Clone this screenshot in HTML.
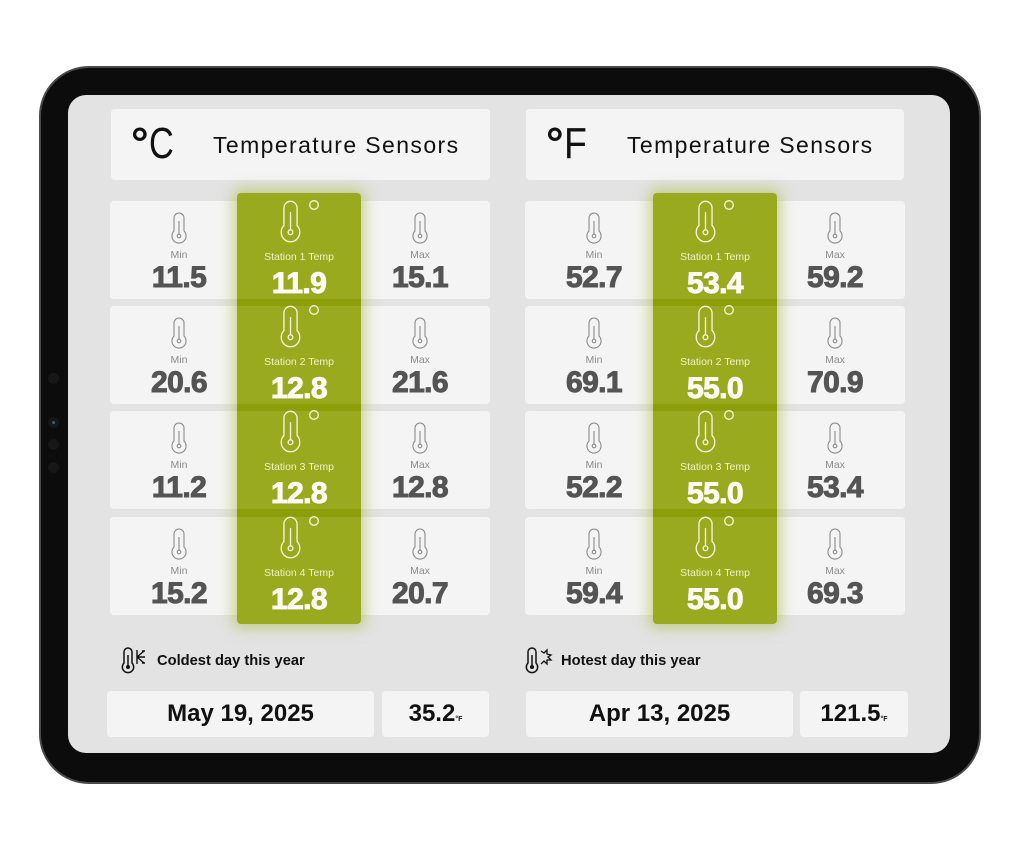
<!DOCTYPE html>
<html><head><meta charset="utf-8">
<style>
*{margin:0;padding:0;box-sizing:border-box}
html,body{width:1024px;height:853px;background:#fff;overflow:hidden;font-family:"Liberation Sans",sans-serif}
.abs{position:absolute}
.frame{position:absolute;left:39px;top:66px;width:942px;height:718px;border-radius:50px;background:#0c0c0c;border:2px solid #4a4a4a}
.screen{position:absolute;left:68px;top:95px;width:882px;height:658px;border-radius:18px;background:#e3e3e3}
.dot{position:absolute;width:11px;height:11px;border-radius:50%;background:#171717}
.card{position:absolute;background:#f4f4f4;border-radius:4px}
.lbl{position:absolute;width:120px;text-align:center;font-size:10.5px;color:#8c8c8c;height:14px;line-height:14px}
.num{position:absolute;width:120px;text-align:center;font-weight:bold;font-size:30px;color:#545454;height:36px;line-height:36px;-webkit-text-stroke:1px #545454;letter-spacing:-0.6px}
.glbl{position:absolute;width:120px;text-align:center;font-size:10.5px;color:#eef3c8;height:14px;line-height:14px}
.gnum{position:absolute;width:120px;text-align:center;font-weight:bold;font-size:30px;color:#fdfdf4;height:36px;line-height:36px;-webkit-text-stroke:1px #fdfdf4;letter-spacing:-0.6px;text-shadow:0 1px 1px rgba(0,0,0,0.12)}
.green{position:absolute;width:124px;top:193px;height:431px;background:#9aaa1e;border-radius:4px;box-shadow:0 0 14px 4px rgba(160,180,40,0.5)}
.band{position:absolute;left:0;width:124px;background:#8c9e0a}
.hdr{position:absolute;font-size:23px;letter-spacing:1.4px;color:#111;height:30px;line-height:30px}
.deg{position:absolute;font-size:44px;color:#111;height:50px;line-height:50px}
.bt{position:absolute;font-weight:bold;font-size:14.7px;color:#111;height:20px;line-height:20px}
.date{position:absolute;text-align:center;font-weight:bold;font-size:24px;color:#111;height:30px;line-height:30px}
</style></head><body>

<div class="frame"></div>
<div class="dot" style="left:48px;top:373px"></div>
<div class="dot" style="left:48px;top:417px"><div class="abs" style="left:4px;top:4px;width:3px;height:3px;border-radius:50%;background:#3a5a8a"></div></div>
<div class="dot" style="left:48px;top:439px"></div>
<div class="dot" style="left:48px;top:462px"></div>

<div class="screen"></div>

<!-- Headers -->
<div class="card" style="left:111px;top:109px;width:379px;height:71px"></div>
<div class="deg" style="left:131px;top:119px"><span style="font-weight:bold">°</span><span style="display:inline-block;transform:scaleX(0.78);transform-origin:left">C</span></div>
<div class="hdr" style="left:213px;top:130px">Temperature Sensors</div>

<div class="card" style="left:526px;top:109px;width:378px;height:71px"></div>
<div class="deg" style="left:546px;top:119px"><span style="font-weight:bold">°</span><span style="display:inline-block;transform:scaleX(0.85);transform-origin:left">F</span></div>
<div class="hdr" style="left:627px;top:130px">Temperature Sensors</div>

<!-- Left cards -->
<div class="card" style="left:110px;top:201px;width:380px;height:98px"></div>
<div class="card" style="left:110px;top:306px;width:380px;height:98px"></div>
<div class="card" style="left:110px;top:411px;width:380px;height:98px"></div>
<div class="card" style="left:110px;top:517px;width:380px;height:98px"></div>
<!-- Right cards -->
<div class="card" style="left:525px;top:201px;width:380px;height:98px"></div>
<div class="card" style="left:525px;top:306px;width:380px;height:98px"></div>
<div class="card" style="left:525px;top:411px;width:380px;height:98px"></div>
<div class="card" style="left:525px;top:517px;width:380px;height:98px"></div>

<!-- Left min/max -->
<svg class="abs" style="left:171px;top:212px" width="16" height="32" viewBox="0 0 16 32"><path d="M3,19V6A5,5 0 0 1 13,6V19A7.07,7.07 0 1 1 3,19Z" fill="none" stroke="#8a8a8a" stroke-width="1.1"/><path d="M8,9V22" stroke="#8a8a8a" stroke-width="1.1"/><circle cx="8" cy="24" r="1.8" fill="none" stroke="#8a8a8a" stroke-width="1.1"/></svg>
<div class="lbl" style="left:119px;top:248px">Min</div>
<div class="num" style="left:119px;top:260px">11.5</div>
<svg class="abs" style="left:412px;top:212px" width="16" height="32" viewBox="0 0 16 32"><path d="M3,19V6A5,5 0 0 1 13,6V19A7.07,7.07 0 1 1 3,19Z" fill="none" stroke="#8a8a8a" stroke-width="1.1"/><path d="M8,9V22" stroke="#8a8a8a" stroke-width="1.1"/><circle cx="8" cy="24" r="1.8" fill="none" stroke="#8a8a8a" stroke-width="1.1"/></svg>
<div class="lbl" style="left:360px;top:248px">Max</div>
<div class="num" style="left:360px;top:260px">15.1</div>

<svg class="abs" style="left:171px;top:317px" width="16" height="32" viewBox="0 0 16 32"><path d="M3,19V6A5,5 0 0 1 13,6V19A7.07,7.07 0 1 1 3,19Z" fill="none" stroke="#8a8a8a" stroke-width="1.1"/><path d="M8,9V22" stroke="#8a8a8a" stroke-width="1.1"/><circle cx="8" cy="24" r="1.8" fill="none" stroke="#8a8a8a" stroke-width="1.1"/></svg>
<div class="lbl" style="left:119px;top:353px">Min</div>
<div class="num" style="left:119px;top:365px">20.6</div>
<svg class="abs" style="left:412px;top:317px" width="16" height="32" viewBox="0 0 16 32"><path d="M3,19V6A5,5 0 0 1 13,6V19A7.07,7.07 0 1 1 3,19Z" fill="none" stroke="#8a8a8a" stroke-width="1.1"/><path d="M8,9V22" stroke="#8a8a8a" stroke-width="1.1"/><circle cx="8" cy="24" r="1.8" fill="none" stroke="#8a8a8a" stroke-width="1.1"/></svg>
<div class="lbl" style="left:360px;top:353px">Max</div>
<div class="num" style="left:360px;top:365px">21.6</div>

<svg class="abs" style="left:171px;top:422px" width="16" height="32" viewBox="0 0 16 32"><path d="M3,19V6A5,5 0 0 1 13,6V19A7.07,7.07 0 1 1 3,19Z" fill="none" stroke="#8a8a8a" stroke-width="1.1"/><path d="M8,9V22" stroke="#8a8a8a" stroke-width="1.1"/><circle cx="8" cy="24" r="1.8" fill="none" stroke="#8a8a8a" stroke-width="1.1"/></svg>
<div class="lbl" style="left:119px;top:458px">Min</div>
<div class="num" style="left:119px;top:470px">11.2</div>
<svg class="abs" style="left:412px;top:422px" width="16" height="32" viewBox="0 0 16 32"><path d="M3,19V6A5,5 0 0 1 13,6V19A7.07,7.07 0 1 1 3,19Z" fill="none" stroke="#8a8a8a" stroke-width="1.1"/><path d="M8,9V22" stroke="#8a8a8a" stroke-width="1.1"/><circle cx="8" cy="24" r="1.8" fill="none" stroke="#8a8a8a" stroke-width="1.1"/></svg>
<div class="lbl" style="left:360px;top:458px">Max</div>
<div class="num" style="left:360px;top:470px">12.8</div>

<svg class="abs" style="left:171px;top:528px" width="16" height="32" viewBox="0 0 16 32"><path d="M3,19V6A5,5 0 0 1 13,6V19A7.07,7.07 0 1 1 3,19Z" fill="none" stroke="#8a8a8a" stroke-width="1.1"/><path d="M8,9V22" stroke="#8a8a8a" stroke-width="1.1"/><circle cx="8" cy="24" r="1.8" fill="none" stroke="#8a8a8a" stroke-width="1.1"/></svg>
<div class="lbl" style="left:119px;top:564px">Min</div>
<div class="num" style="left:119px;top:576px">15.2</div>
<svg class="abs" style="left:412px;top:528px" width="16" height="32" viewBox="0 0 16 32"><path d="M3,19V6A5,5 0 0 1 13,6V19A7.07,7.07 0 1 1 3,19Z" fill="none" stroke="#8a8a8a" stroke-width="1.1"/><path d="M8,9V22" stroke="#8a8a8a" stroke-width="1.1"/><circle cx="8" cy="24" r="1.8" fill="none" stroke="#8a8a8a" stroke-width="1.1"/></svg>
<div class="lbl" style="left:360px;top:564px">Max</div>
<div class="num" style="left:360px;top:576px">20.7</div>

<!-- Right min/max -->
<svg class="abs" style="left:586px;top:212px" width="16" height="32" viewBox="0 0 16 32"><path d="M3,19V6A5,5 0 0 1 13,6V19A7.07,7.07 0 1 1 3,19Z" fill="none" stroke="#8a8a8a" stroke-width="1.1"/><path d="M8,9V22" stroke="#8a8a8a" stroke-width="1.1"/><circle cx="8" cy="24" r="1.8" fill="none" stroke="#8a8a8a" stroke-width="1.1"/></svg>
<div class="lbl" style="left:534px;top:248px">Min</div>
<div class="num" style="left:534px;top:260px">52.7</div>
<svg class="abs" style="left:827px;top:212px" width="16" height="32" viewBox="0 0 16 32"><path d="M3,19V6A5,5 0 0 1 13,6V19A7.07,7.07 0 1 1 3,19Z" fill="none" stroke="#8a8a8a" stroke-width="1.1"/><path d="M8,9V22" stroke="#8a8a8a" stroke-width="1.1"/><circle cx="8" cy="24" r="1.8" fill="none" stroke="#8a8a8a" stroke-width="1.1"/></svg>
<div class="lbl" style="left:775px;top:248px">Max</div>
<div class="num" style="left:775px;top:260px">59.2</div>

<svg class="abs" style="left:586px;top:317px" width="16" height="32" viewBox="0 0 16 32"><path d="M3,19V6A5,5 0 0 1 13,6V19A7.07,7.07 0 1 1 3,19Z" fill="none" stroke="#8a8a8a" stroke-width="1.1"/><path d="M8,9V22" stroke="#8a8a8a" stroke-width="1.1"/><circle cx="8" cy="24" r="1.8" fill="none" stroke="#8a8a8a" stroke-width="1.1"/></svg>
<div class="lbl" style="left:534px;top:353px">Min</div>
<div class="num" style="left:534px;top:365px">69.1</div>
<svg class="abs" style="left:827px;top:317px" width="16" height="32" viewBox="0 0 16 32"><path d="M3,19V6A5,5 0 0 1 13,6V19A7.07,7.07 0 1 1 3,19Z" fill="none" stroke="#8a8a8a" stroke-width="1.1"/><path d="M8,9V22" stroke="#8a8a8a" stroke-width="1.1"/><circle cx="8" cy="24" r="1.8" fill="none" stroke="#8a8a8a" stroke-width="1.1"/></svg>
<div class="lbl" style="left:775px;top:353px">Max</div>
<div class="num" style="left:775px;top:365px">70.9</div>

<svg class="abs" style="left:586px;top:422px" width="16" height="32" viewBox="0 0 16 32"><path d="M3,19V6A5,5 0 0 1 13,6V19A7.07,7.07 0 1 1 3,19Z" fill="none" stroke="#8a8a8a" stroke-width="1.1"/><path d="M8,9V22" stroke="#8a8a8a" stroke-width="1.1"/><circle cx="8" cy="24" r="1.8" fill="none" stroke="#8a8a8a" stroke-width="1.1"/></svg>
<div class="lbl" style="left:534px;top:458px">Min</div>
<div class="num" style="left:534px;top:470px">52.2</div>
<svg class="abs" style="left:827px;top:422px" width="16" height="32" viewBox="0 0 16 32"><path d="M3,19V6A5,5 0 0 1 13,6V19A7.07,7.07 0 1 1 3,19Z" fill="none" stroke="#8a8a8a" stroke-width="1.1"/><path d="M8,9V22" stroke="#8a8a8a" stroke-width="1.1"/><circle cx="8" cy="24" r="1.8" fill="none" stroke="#8a8a8a" stroke-width="1.1"/></svg>
<div class="lbl" style="left:775px;top:458px">Max</div>
<div class="num" style="left:775px;top:470px">53.4</div>

<svg class="abs" style="left:586px;top:528px" width="16" height="32" viewBox="0 0 16 32"><path d="M3,19V6A5,5 0 0 1 13,6V19A7.07,7.07 0 1 1 3,19Z" fill="none" stroke="#8a8a8a" stroke-width="1.1"/><path d="M8,9V22" stroke="#8a8a8a" stroke-width="1.1"/><circle cx="8" cy="24" r="1.8" fill="none" stroke="#8a8a8a" stroke-width="1.1"/></svg>
<div class="lbl" style="left:534px;top:564px">Min</div>
<div class="num" style="left:534px;top:576px">59.4</div>
<svg class="abs" style="left:827px;top:528px" width="16" height="32" viewBox="0 0 16 32"><path d="M3,19V6A5,5 0 0 1 13,6V19A7.07,7.07 0 1 1 3,19Z" fill="none" stroke="#8a8a8a" stroke-width="1.1"/><path d="M8,9V22" stroke="#8a8a8a" stroke-width="1.1"/><circle cx="8" cy="24" r="1.8" fill="none" stroke="#8a8a8a" stroke-width="1.1"/></svg>
<div class="lbl" style="left:775px;top:564px">Max</div>
<div class="num" style="left:775px;top:576px">69.3</div>

<!-- Green columns -->
<div class="green" style="left:237px">
  <div class="band" style="top:106px;height:7px"></div>
  <div class="band" style="top:211px;height:7px"></div>
  <div class="band" style="top:316px;height:8px"></div>
</div>
<div class="green" style="left:653px">
  <div class="band" style="top:106px;height:7px"></div>
  <div class="band" style="top:211px;height:7px"></div>
  <div class="band" style="top:316px;height:8px"></div>
</div>

<!-- Left green contents -->
<svg class="abs" style="left:280px;top:200px" width="21" height="43" viewBox="0 0 16 32" preserveAspectRatio="none"><path d="M3,19V6A5,5 0 0 1 13,6V19A7.07,7.07 0 1 1 3,19Z" fill="none" stroke="#f4f6e0" stroke-width="1"/><path d="M8,9V22" stroke="#f4f6e0" stroke-width="1"/><circle cx="8" cy="24" r="1.8" fill="none" stroke="#f4f6e0" stroke-width="1"/></svg>
<svg class="abs" style="left:308px;top:199px" width="12" height="12"><circle cx="6" cy="6" r="4.3" fill="none" stroke="#f4f6e0" stroke-width="1.3"/></svg>
<div class="glbl" style="left:239px;top:250px">Station 1 Temp</div>
<div class="gnum" style="left:239px;top:266px">11.9</div>

<svg class="abs" style="left:280px;top:305px" width="21" height="43" viewBox="0 0 16 32" preserveAspectRatio="none"><path d="M3,19V6A5,5 0 0 1 13,6V19A7.07,7.07 0 1 1 3,19Z" fill="none" stroke="#f4f6e0" stroke-width="1"/><path d="M8,9V22" stroke="#f4f6e0" stroke-width="1"/><circle cx="8" cy="24" r="1.8" fill="none" stroke="#f4f6e0" stroke-width="1"/></svg>
<svg class="abs" style="left:308px;top:304px" width="12" height="12"><circle cx="6" cy="6" r="4.3" fill="none" stroke="#f4f6e0" stroke-width="1.3"/></svg>
<div class="glbl" style="left:239px;top:355px">Station 2 Temp</div>
<div class="gnum" style="left:239px;top:371px">12.8</div>

<svg class="abs" style="left:280px;top:410px" width="21" height="43" viewBox="0 0 16 32" preserveAspectRatio="none"><path d="M3,19V6A5,5 0 0 1 13,6V19A7.07,7.07 0 1 1 3,19Z" fill="none" stroke="#f4f6e0" stroke-width="1"/><path d="M8,9V22" stroke="#f4f6e0" stroke-width="1"/><circle cx="8" cy="24" r="1.8" fill="none" stroke="#f4f6e0" stroke-width="1"/></svg>
<svg class="abs" style="left:308px;top:409px" width="12" height="12"><circle cx="6" cy="6" r="4.3" fill="none" stroke="#f4f6e0" stroke-width="1.3"/></svg>
<div class="glbl" style="left:239px;top:460px">Station 3 Temp</div>
<div class="gnum" style="left:239px;top:476px">12.8</div>

<svg class="abs" style="left:280px;top:516px" width="21" height="43" viewBox="0 0 16 32" preserveAspectRatio="none"><path d="M3,19V6A5,5 0 0 1 13,6V19A7.07,7.07 0 1 1 3,19Z" fill="none" stroke="#f4f6e0" stroke-width="1"/><path d="M8,9V22" stroke="#f4f6e0" stroke-width="1"/><circle cx="8" cy="24" r="1.8" fill="none" stroke="#f4f6e0" stroke-width="1"/></svg>
<svg class="abs" style="left:308px;top:515px" width="12" height="12"><circle cx="6" cy="6" r="4.3" fill="none" stroke="#f4f6e0" stroke-width="1.3"/></svg>
<div class="glbl" style="left:239px;top:566px">Station 4 Temp</div>
<div class="gnum" style="left:239px;top:582px">12.8</div>

<!-- Right green contents -->
<svg class="abs" style="left:695px;top:200px" width="21" height="43" viewBox="0 0 16 32" preserveAspectRatio="none"><path d="M3,19V6A5,5 0 0 1 13,6V19A7.07,7.07 0 1 1 3,19Z" fill="none" stroke="#f4f6e0" stroke-width="1"/><path d="M8,9V22" stroke="#f4f6e0" stroke-width="1"/><circle cx="8" cy="24" r="1.8" fill="none" stroke="#f4f6e0" stroke-width="1"/></svg>
<svg class="abs" style="left:723px;top:199px" width="12" height="12"><circle cx="6" cy="6" r="4.3" fill="none" stroke="#f4f6e0" stroke-width="1.3"/></svg>
<div class="glbl" style="left:655px;top:250px">Station 1 Temp</div>
<div class="gnum" style="left:655px;top:266px">53.4</div>

<svg class="abs" style="left:695px;top:305px" width="21" height="43" viewBox="0 0 16 32" preserveAspectRatio="none"><path d="M3,19V6A5,5 0 0 1 13,6V19A7.07,7.07 0 1 1 3,19Z" fill="none" stroke="#f4f6e0" stroke-width="1"/><path d="M8,9V22" stroke="#f4f6e0" stroke-width="1"/><circle cx="8" cy="24" r="1.8" fill="none" stroke="#f4f6e0" stroke-width="1"/></svg>
<svg class="abs" style="left:723px;top:304px" width="12" height="12"><circle cx="6" cy="6" r="4.3" fill="none" stroke="#f4f6e0" stroke-width="1.3"/></svg>
<div class="glbl" style="left:655px;top:355px">Station 2 Temp</div>
<div class="gnum" style="left:655px;top:371px">55.0</div>

<svg class="abs" style="left:695px;top:410px" width="21" height="43" viewBox="0 0 16 32" preserveAspectRatio="none"><path d="M3,19V6A5,5 0 0 1 13,6V19A7.07,7.07 0 1 1 3,19Z" fill="none" stroke="#f4f6e0" stroke-width="1"/><path d="M8,9V22" stroke="#f4f6e0" stroke-width="1"/><circle cx="8" cy="24" r="1.8" fill="none" stroke="#f4f6e0" stroke-width="1"/></svg>
<svg class="abs" style="left:723px;top:409px" width="12" height="12"><circle cx="6" cy="6" r="4.3" fill="none" stroke="#f4f6e0" stroke-width="1.3"/></svg>
<div class="glbl" style="left:655px;top:460px">Station 3 Temp</div>
<div class="gnum" style="left:655px;top:476px">55.0</div>

<svg class="abs" style="left:695px;top:516px" width="21" height="43" viewBox="0 0 16 32" preserveAspectRatio="none"><path d="M3,19V6A5,5 0 0 1 13,6V19A7.07,7.07 0 1 1 3,19Z" fill="none" stroke="#f4f6e0" stroke-width="1"/><path d="M8,9V22" stroke="#f4f6e0" stroke-width="1"/><circle cx="8" cy="24" r="1.8" fill="none" stroke="#f4f6e0" stroke-width="1"/></svg>
<svg class="abs" style="left:723px;top:515px" width="12" height="12"><circle cx="6" cy="6" r="4.3" fill="none" stroke="#f4f6e0" stroke-width="1.3"/></svg>
<div class="glbl" style="left:655px;top:566px">Station 4 Temp</div>
<div class="gnum" style="left:655px;top:582px">55.0</div>

<!-- Bottom left -->
<svg class="abs" style="left:121px;top:647px" width="30" height="27" viewBox="0 0 30 27">
  <path d="M3,16V5A4,4 0 0 1 11,5V16A5.66,5.66 0 1 1 3,16Z" fill="none" stroke="#111" stroke-width="1.5"/>
  <path d="M7,8V18" stroke="#111" stroke-width="1.5"/><circle cx="7" cy="20" r="2" fill="#111"/>
  <path d="M16,3V17M16,10L23,4M16,10L23,16M16,10H24M21,4H24M21,16H24" stroke="#111" stroke-width="1.4" fill="none"/>
</svg>
<div class="bt" style="left:157px;top:651px">Coldest day this year</div>
<div class="card" style="left:107px;top:691px;width:267px;height:46px"></div>
<div class="date" style="left:107px;top:699px;width:267px">May 19, 2025</div>
<div class="card" style="left:382px;top:691px;width:107px;height:46px"></div>
<div class="date" style="left:382px;top:699px;width:107px">35.2<span style="font-size:7px">°F</span></div>

<!-- Bottom right -->
<svg class="abs" style="left:525px;top:647px" width="30" height="27" viewBox="0 0 30 27">
  <path d="M3,16V5A4,4 0 0 1 11,5V16A5.66,5.66 0 1 1 3,16Z" fill="none" stroke="#111" stroke-width="1.5"/>
  <path d="M7,8V18" stroke="#111" stroke-width="1.5"/><circle cx="7" cy="20" r="2" fill="#111"/>
  <path d="M16,4L19,6L22,3L22,7L26,8L23,10L26,13L22,13L22,17L19,14L16,17" stroke="#111" stroke-width="1.3" fill="none"/>
</svg>
<div class="bt" style="left:561px;top:651px">Hotest day this year</div>
<div class="card" style="left:526px;top:691px;width:267px;height:46px"></div>
<div class="date" style="left:526px;top:699px;width:267px">Apr 13, 2025</div>
<div class="card" style="left:800px;top:691px;width:108px;height:46px"></div>
<div class="date" style="left:800px;top:699px;width:108px">121.5<span style="font-size:7px">°F</span></div>

</body></html>
